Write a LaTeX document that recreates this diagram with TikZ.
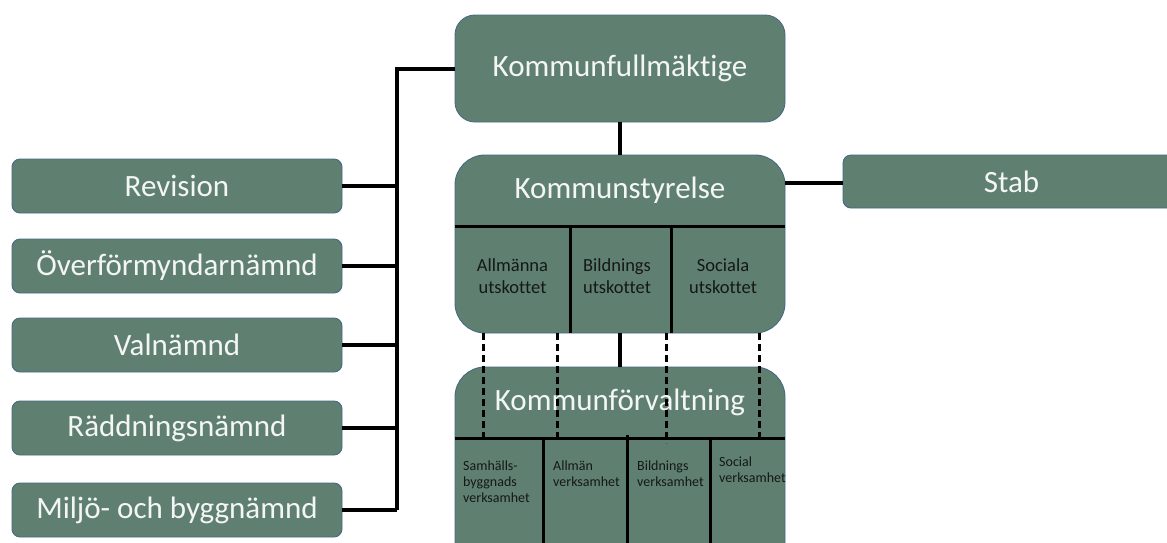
\documentclass[tikz,border=0pt]{standalone}
\usepackage{fontspec}
\setmainfont{Carlito}[Ligatures={NoCommon}]
\definecolor{boxfill}{RGB}{95,128,113}
\definecolor{boxborder}{RGB}{72,104,130}
\definecolor{boxtext}{RGB}{244,246,245}
\definecolor{subtext}{RGB}{20,24,22}
\begin{document}
\begin{tikzpicture}[x=1pt,y=-1pt,
  box/.style={draw=boxborder, line width=0.9pt, fill=boxfill, text=boxtext,
    font=\fontsize{31}{37}\selectfont, inner sep=0pt, rounded corners=8pt},
  bigbox/.style={draw=boxborder, line width=0.9pt, fill=boxfill, inner sep=0pt},
  title/.style={text=boxtext, font=\fontsize{31}{37}\selectfont, inner sep=0pt},
  subA/.style={text=subtext, font=\fontsize{18.5}{22}\selectfont, align=center, inner sep=0pt},
  subB/.style={text=subtext, font=\fontsize{14}{16}\selectfont, align=left, inner sep=0pt, anchor=west},
  conn/.style={line width=4pt, black},
  divider/.style={line width=3pt, black},
  dashline/.style={line width=3pt, black, dash pattern=on 7pt off 4pt}
]
\useasboundingbox (0,0) rectangle (1167,542);
\clip (0,0) rectangle (1167,542);

% left boxes
\node[box, minimum width=330, minimum height=54] (rev) at (177,186) {Revision};
\node[box, minimum width=330, minimum height=54] (ofm) at (177,266) {Överförmyndarnämnd};
\node[box, minimum width=330, minimum height=54] (val) at (177,345) {Valnämnd};
\node[box, minimum width=330, minimum height=54] (rad) at (177,428) {Räddningsnämnd};
\node[box, minimum width=330, minimum height=54] (mil) at (177,510) {Miljö- och byggnämnd};

% main boxes
\node[box, rounded corners=20pt, minimum width=330, minimum height=107] (kf) at (620,68.5) {Kommunfullmäktige};
\node[bigbox, rounded corners=30pt, minimum width=330, minimum height=178] (ks) at (620,244) {};
\node[bigbox, rounded corners=30pt, minimum width=330, minimum height=233] (kfv) at (620,483.5) {};
\node[box, minimum width=337, minimum height=53] (stab) at (1011.5,181.5) {Stab};

% bus
\coordinate (bt) at (397,68.5);
\coordinate (bb) at (397,510);
\draw[conn] (kf.west) -- (bt) -- (bb);
\foreach \n in {rev,ofm,val,rad,mil} {
  \draw[conn] (\n.east) -- (\n.east -| bt);
}
\draw[conn] (kf.south) -- (ks.north);
\coordinate (ksr) at (ks.east |- 0,183);
\draw[conn] (ksr) -- (ksr -| stab.west);
\draw[conn] (ks.south) -- (kfv.north);

% Kommunstyrelse contents
\node[title] (kst) at (620,190) {Kommunstyrelse};
\coordinate (ksl) at (ks.west |- 0,226);
\coordinate (ksrr) at (ks.east |- 0,226);
\draw[divider] (ksl) -- (ksrr);
\coordinate (d1) at (570,226);
\coordinate (d2) at (671,226);
\draw[divider] (d1) -- (d1 |- ks.south);
\draw[divider] (d2) -- (d2 |- ks.south);
\node[subA] (ks1) at (512.5,276) {Allmänna\\utskottet};
\node[subA] (ks2) at (617,276) {Bildnings\\utskottet};
\node[subA] (ks3) at (723,276) {Sociala\\utskottet};

% Kommunförvaltning contents
\node[title] (kfvt) at (620,402) {Kommunförvaltning};
\coordinate (kfl) at (kfv.west |- 0,438);
\coordinate (kfr) at (kfv.east |- 0,438);
\draw[divider] (kfl) -- (kfr);
\coordinate (e1) at (543,438);
\coordinate (e2) at (627,435);
\coordinate (e3) at (710,438);
\draw[divider] (e1) -- (543,560);
\draw[divider] (e2) -- (627,560);
\draw[divider] (e3) -- (710,560);
\node[subB] (v1) at (463,482) {Samhälls-\\byggnads\\verksamhet};
\node[subB] (v2) at (553,474) {Allmän\\verksamhet};
\node[subB] (v3) at (637,474) {Bildnings\\verksamhet};
\node[subB] (v4) at (719,470) {Social\\verksamhet};

% dashed links
\foreach \x/\e in {483/438, 557/438, 666/443, 759/438} {
  \draw[dashline] (\x,333) -- (\x,\e);
}
\end{tikzpicture}
\end{document}
